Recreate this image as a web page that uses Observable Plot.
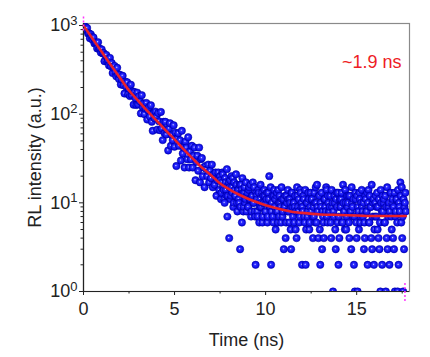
<!DOCTYPE html>
<html>
<head>
<meta charset="utf-8">
<script src="https://cdn.jsdelivr.net/npm/d3@7"></script>
<script src="https://cdn.jsdelivr.net/npm/@observablehq/plot@0.6"></script>
<style>
  html, body { margin: 0; padding: 0; background: #fff; }
</style>
</head>
<body>
<div id="chart"></div>
<script>
// Time channel width (ns) and measured counts per channel, starting at t = 0
const channelWidth = 0.05;
const counts = [
  1000, 915, 970, 892, 938, 811, 817, 718, 796, 748,
  690, 733, 628, 641, 643, 552, 648, 544, 549, 496,
  538, 485, 489, 396, 464, 467, 394, 407, 355, 432,
  348, 378, 291, 338, 351, 299, 267, 334, 280, 249,
  278, 216, 246, 271, 212, 171, 233, 204, 229, 168,
  194, 160, 215, 164, 180, 128, 178, 152, 127, 175,
  129, 160, 139, 102, 164, 120, 132, 100, 117, 134,
  87, 111, 120, 94, 126, 82, 65, 103, 90, 107,
  94, 67, 103, 83, 66, 106, 69, 51, 82, 61,
  82, 59, 67, 39, 69, 79, 44, 58, 51, 75,
  43, 62, 26, 53, 61, 44, 51, 30, 65, 36,
  42, 25, 49, 42, 31, 55, 25, 38, 31, 44,
  25, 34, 42, 18, 29, 34, 23, 42, 17, 31,
  32, 20, 25, 15, 26, 24, 20, 27, 17, 23,
  19, 27, 15, 21, 16, 22, 12, 18, 22, 14,
  20, 11, 17, 21, 14, 10, 17, 12, 7, 16,
  4, 18, 12, 15, 19, 10, 14, 12, 16, 8,
  14, 10, 3, 16, 6, 13, 9, 15, 11, 8,
  13, 9, 15, 11, 7, 12, 17, 10, 8, 2,
  12, 8, 14, 6, 11, 9, 13, 7, 10, 12,
  8, 11, 6, 13, 20, 9, 2, 10, 7, 12,
  9, 5, 12, 8, 14, 7, 10, 6, 11, 8,
  3, 9, 4, 12, 8, 11, 6, 10, 3, 13,
  7, 10, 9, 5, 4, 12, 8, 6, 14, 9,
  2, 8, 11, 6, 2, 10, 7, 13, 5, 9,
  8, 11, 4, 7, 10, 15, 6, 9, 4, 12,
  2, 9, 3, 7, 4, 11, 8, 14, 6, 10,
  8, 12, 4, 9, 1, 7, 10, 3, 13, 6,
  2, 4, 9, 11, 6, 16, 8, 5, 10, 7,
  9, 12, 4, 8, 3, 10, 7, 2, 1, 11,
  4, 1, 8, 13, 6, 10, 9, 7, 3, 4,
  11, 8, 2, 14, 6, 9, 4, 3, 10, 2,
  7, 12, 9, 5, 4, 3, 1, 10, 2, 8,
  11, 6, 1, 4, 3, 9, 2, 13, 7, 10,
  4, 3, 1, 8, 11, 1, 2, 9, 17, 6,
  4, 1, 3, 10, 8
];

// Interleaved channels of the tail (between the channels above), starting at 7.525 ns
const tailStart = 7.525;
const tailCounts = [
  18, 13, 22, 15, 11, 19, 14, 24, 12, 17,
  15, 11, 20, 13, 9, 17, 12, 21, 10, 14,
  11, 16, 9, 14, 19, 8, 13, 10, 17, 12,
  9, 14, 11, 16, 8, 12, 10, 15, 7, 13,
  11, 7, 13, 9, 16, 10, 6, 12, 14, 8,
  10, 13, 7, 11, 9, 15, 8, 12, 6, 14,
  11, 8, 13, 6, 10, 12, 9, 15, 7, 11,
  9, 12, 6, 10, 14, 8, 11, 5, 13, 9,
  10, 6, 12, 8, 15, 9, 11, 7, 13, 10,
  9, 12, 7, 14, 5, 10, 8, 11, 6, 13,
  11, 7, 9, 13, 6, 10, 16, 8, 12, 5,
  10, 13, 8, 6, 11, 9, 15, 7, 12, 8,
  9, 6, 14, 10, 8, 12, 5, 11, 9, 13,
  7, 11, 9, 13, 6, 10, 8, 14, 5, 12,
  10, 6, 12, 8, 15, 9, 11, 7, 13, 6,
  12, 9, 5, 11, 7, 14, 8, 10, 6, 12,
  8, 13, 10, 6, 12, 9, 16, 7, 11, 5,
  10, 7, 13, 9, 11, 6, 14, 8, 12, 10,
  6, 12, 9, 15, 7, 10, 8, 13, 5, 11,
  9, 13, 7, 11, 6, 14, 10, 8, 12, 15,
  7, 11, 9, 13
];

// Fitted decay curve
const fitTime  = [0, 0.5, 1, 1.5, 2, 2.5, 3, 3.5, 4, 4.5, 5, 5.5, 6, 6.5, 7, 7.5, 8, 8.5, 9, 9.5, 10, 10.5, 11, 11.5, 12, 13, 14, 15, 16, 17.7];
const fitValue = [1000, 710, 505, 359, 258, 185, 142, 109, 85, 66, 52, 40, 31.5, 25, 20.5, 16.5, 14.2, 12.5, 11.2, 10.2, 9.4, 8.8, 8.3, 7.9, 7.7, 7.4, 7.3, 7.2, 7.1, 7.1];

// Axis ticks and labels
const xTicks = [0, 5, 10, 15];
const xMinorTicks = [2.5, 7.5, 12.5, 17.5];
const yTicks = [1, 10, 100, 1000];
const yTickExponents = ["0", "1", "2", "3"];
const yMinorTicks = [2,3,4,5,6,7,8,9,20,30,40,50,60,70,80,90,200,300,400,500,600,700,800,900];
const lifetimeLabel = ["~1.9 ns"];
const xLabel = "Time (ns)";
const yLabel = "RL intensity (a.u.)";
// Data-reader markers (magenta) at the start and end of the record
const markerStart = [{t: 0, lo: 870, hi: 1270}];
const markerEnd = [{t: 17.65, lo: 0.77, hi: 1.26}];

const points = counts.map((c, i) => ({t: +(i * channelWidth).toFixed(3), c}))
  .concat(tailCounts.map((c, i) => ({t: +(tailStart + i * channelWidth).toFixed(3), c})))
  .sort((a, b) => a.t - b.t);
const fit = fitTime.map((t, i) => ({t, v: fitValue[i]}));

const font = "'Liberation Sans', Arial, Helvetica, sans-serif";

const chart = Plot.plot({
  width: 430,
  height: 357,
  marginLeft: 83,
  marginRight: 21,
  marginTop: 23,
  marginBottom: 66,
  style: {fontFamily: font, fontSize: "18px", color: "#222", background: "#fff"},
  x: {domain: [0, 17.9]},
  y: {type: "log", domain: [1, 1054]},
  marks: [
    Plot.frame({stroke: "#8a8a8a", strokeWidth: 1.2}),
    Plot.dot(points, {x: "t", y: "c", r: 3.7, fill: "url(#ball)", stroke: "#00009c", strokeWidth: 0.5, clip: true}),
    Plot.line(fit, {x: "t", y: "v", stroke: "#e8202a", strokeWidth: 2.6, curve: "monotone-x"}),
    Plot.ruleX([0], {stroke: "#222", strokeWidth: 1.2}),
    Plot.ruleY([1], {stroke: "#222", strokeWidth: 1.2}),
    Plot.axisX({ticks: xTicks, tickSize: 4, tickPadding: 7, tickFormat: d => String(d), fontSize: 18,
      label: xLabel, labelAnchor: "center", labelOffset: 54, labelArrow: "none"}),
    Plot.axisX({ticks: xMinorTicks, tickSize: 2.5, tickFormat: () => "", label: null}),
    Plot.axisY({ticks: yTicks, tickSize: 4, tickPadding: 2, fontSize: 18,
      tickFormat: d => "10^" + yTickExponents[yTicks.indexOf(d)],
      label: yLabel, labelAnchor: "center", labelOffset: 55, labelArrow: "none"}),
    Plot.axisY({ticks: yMinorTicks, tickSize: 2.5, tickFormat: () => "", label: null}),
    Plot.text(lifetimeLabel, {frameAnchor: "top-right", dx: -8, dy: 39, textAnchor: "end", lineAnchor: "middle", fill: "#ee1c25", fontSize: 18}),
    Plot.ruleX(markerStart, {x: "t", y1: "lo", y2: "hi", stroke: "#ff33ff", strokeWidth: 1.5, strokeDasharray: "2,2"}),
    Plot.ruleX(markerEnd, {x: "t", y1: "lo", y2: "hi", stroke: "#ff33ff", strokeWidth: 1.5, strokeDasharray: "2,2"})
  ]
});

const ns = "http://www.w3.org/2000/svg";

// turn "10^n" tick labels into a base with a real superscript
chart.querySelectorAll("text").forEach(t => {
  const m = /^10\^(\d)$/.exec(t.textContent);
  if (!m) return;
  t.textContent = "";
  const base = document.createElementNS(ns, "tspan");
  base.textContent = "10";
  const sup = document.createElementNS(ns, "tspan");
  sup.textContent = m[1];
  sup.setAttribute("font-size", "13");
  sup.setAttribute("dy", "-0.5em");
  t.appendChild(base);
  t.appendChild(sup);
});

// radial gradient for the shaded blue markers
const defs = document.createElementNS(ns, "defs");
const grad = document.createElementNS(ns, "radialGradient");
grad.setAttribute("id", "ball");
grad.setAttribute("cx", "0.5"); grad.setAttribute("cy", "0.5"); grad.setAttribute("r", "0.5");
grad.setAttribute("fx", "0.42"); grad.setAttribute("fy", "0.42");
[["0%", "#e6e6ff"], ["28%", "#3030ff"], ["100%", "#0000e0"]].forEach(([o, c]) => {
  const s = document.createElementNS(ns, "stop");
  s.setAttribute("offset", o); s.setAttribute("stop-color", c);
  grad.appendChild(s);
});
defs.appendChild(grad);
chart.insertBefore(defs, chart.firstChild);

document.getElementById("chart").appendChild(chart);
</script>
</body>
</html>
